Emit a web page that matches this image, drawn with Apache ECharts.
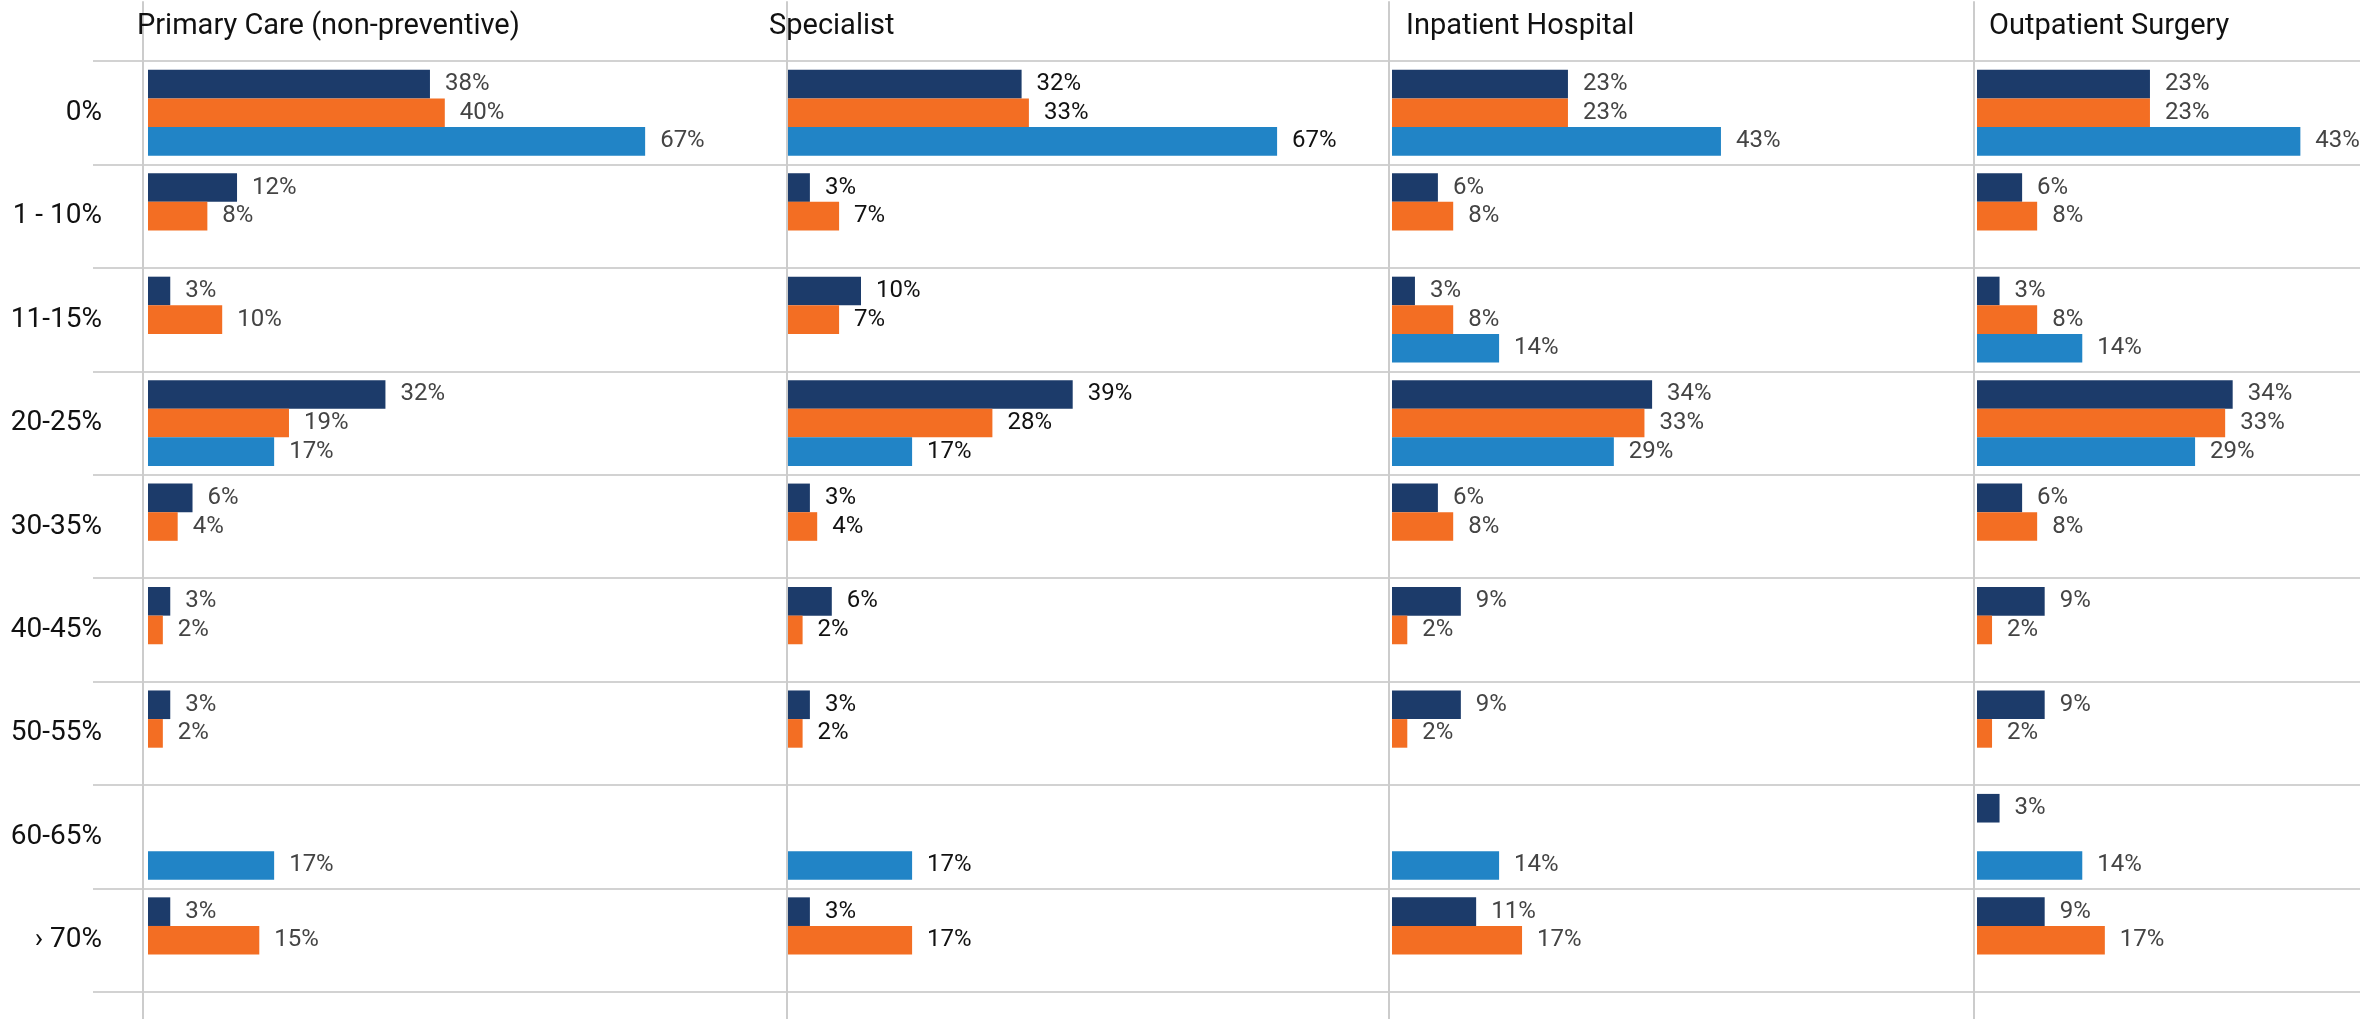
<!DOCTYPE html>
<html>
<head>
  <meta charset="UTF-8">
  <script src="https://cdn.jsdelivr.net/npm/echarts@6/dist/echarts.min.js"></script>
  <style>
    html, body { margin: 0; padding: 0; background: #fff; }
    #main { width: 2360px; height: 1019px; }
  </style>
</head>
<body>
<div id="main"></div>
<script>
  // row categories (top to bottom) and panel titles
  var rows = ['0%', '1 - 10%', '11-15%', '20-25%', '30-35%', '40-45%', '50-55%', '60-65%', '› 70%'];
  var panels = ['Primary Care (non-preventive)', 'Specialist', 'Inpatient Hospital', 'Outpatient Surgery'];

  // three bars per row: navy, orange, light blue  (null = no bar)
  var primaryNavy   = [38, 12, 3, 32, 6, 3, 3, null, 3];
  var primaryOrange = [40, 8, 10, 19, 4, 2, 2, null, 15];
  var primaryBlue   = [67, null, null, 17, null, null, null, 17, null];

  var specialistNavy   = [32, 3, 10, 39, 3, 6, 3, null, 3];
  var specialistOrange = [33, 7, 7, 28, 4, 2, 2, null, 17];
  var specialistBlue   = [67, null, null, 17, null, null, null, 17, null];

  var inpatientNavy   = [23, 6, 3, 34, 6, 9, 9, null, 11];
  var inpatientOrange = [23, 8, 8, 33, 8, 2, 2, null, 17];
  var inpatientBlue   = [43, null, 14, 29, null, null, null, 14, null];

  var outpatientNavy   = [23, 6, 3, 34, 6, 9, 9, 3, 9];
  var outpatientOrange = [23, 8, 8, 33, 8, 2, 2, null, 17];
  var outpatientBlue   = [43, null, 14, 29, null, null, null, 14, null];

  var panelData = [
    [primaryNavy, primaryOrange, primaryBlue],
    [specialistNavy, specialistOrange, specialistBlue],
    [inpatientNavy, inpatientOrange, inpatientBlue],
    [outpatientNavy, outpatientOrange, outpatientBlue]
  ];

  var colors = ['#1c3b6a', '#f36e23', '#2184c6'];
  var names = ['navy', 'orange', 'blue'];

  // layout (px)
  var W = 2360;
  var barLeft = [148, 788, 1392, 1977];
  var lineX = [143, 787, 1389, 1974];
  var pxPerPct = [7.42, 7.30, 7.65, 7.52];
  var titleX = [137, 769, 1406, 1989];
  var labelColor = ['#444', '#111', '#444', '#444'];
  var font = 'Roboto, "Noto Sans", sans-serif';

  var grid = [{ left: 93, right: 0, top: 61, bottom: 27 }];
  var xAxis = [{ gridIndex: 0, type: 'value', min: 0, max: 1, show: false }];
  var yAxis = [{
    gridIndex: 0, type: 'category', data: rows, inverse: true,
    axisLine: { show: false }, axisTick: { show: false },
    axisLabel: { margin: -9, fontSize: 28, color: '#111', fontFamily: font },
    splitLine: { show: true, lineStyle: { color: '#d2d2d2', width: 2 } }
  }];
  var series = [];
  var title = [];

  for (var p = 0; p < 4; p++) {
    // data grid runs to the next panel's rule (or the page edge)
    var w = (p < 3 ? lineX[p + 1] : W) - barLeft[p];
    grid.push({ left: barLeft[p], width: w, top: 61, bottom: 27 });
    xAxis.push({ gridIndex: p + 1, type: 'value', min: 0, max: w / pxPerPct[p], show: false });
    yAxis.push({ gridIndex: p + 1, type: 'category', data: rows, inverse: true, show: false });
    for (var s = 0; s < 3; s++) {
      series.push({
        type: 'bar', name: names[s], xAxisIndex: p + 1, yAxisIndex: p + 1,
        data: panelData[p][s], barGap: '0%', barCategoryGap: '17%',
        itemStyle: { color: colors[s] },
        label: {
          show: true, position: 'right', distance: 15, formatter: '{c}%',
          fontSize: 24, color: labelColor[p], fontFamily: font
        },
        silent: true, animation: false
      });
    }
    title.push({
      text: panels[p], left: titleX[p], top: 12, padding: 0,
      textStyle: { fontSize: 29, fontWeight: 'normal', color: '#111', fontFamily: font }
    });
  }

  // full-height vertical rules at the panel edges
  for (var v = 0; v < 4; v++) {
    grid.push({ left: lineX[v], width: 10, top: 2, bottom: 0 });
    xAxis.push({ gridIndex: 5 + v, type: 'value', min: 0, max: 1, show: false });
    yAxis.push({
      gridIndex: 5 + v, type: 'value', min: 0, max: 1,
      axisLine: { show: true, onZero: false, lineStyle: { color: '#cccccc', width: 2 } },
      axisTick: { show: false }, axisLabel: { show: false }, splitLine: { show: false }
    });
  }

  var chart = echarts.init(document.getElementById('main'));
  chart.setOption({
    animation: false,
    backgroundColor: '#fff',
    title: title,
    grid: grid,
    xAxis: xAxis,
    yAxis: yAxis,
    series: series
  });
</script>
</body>
</html>
